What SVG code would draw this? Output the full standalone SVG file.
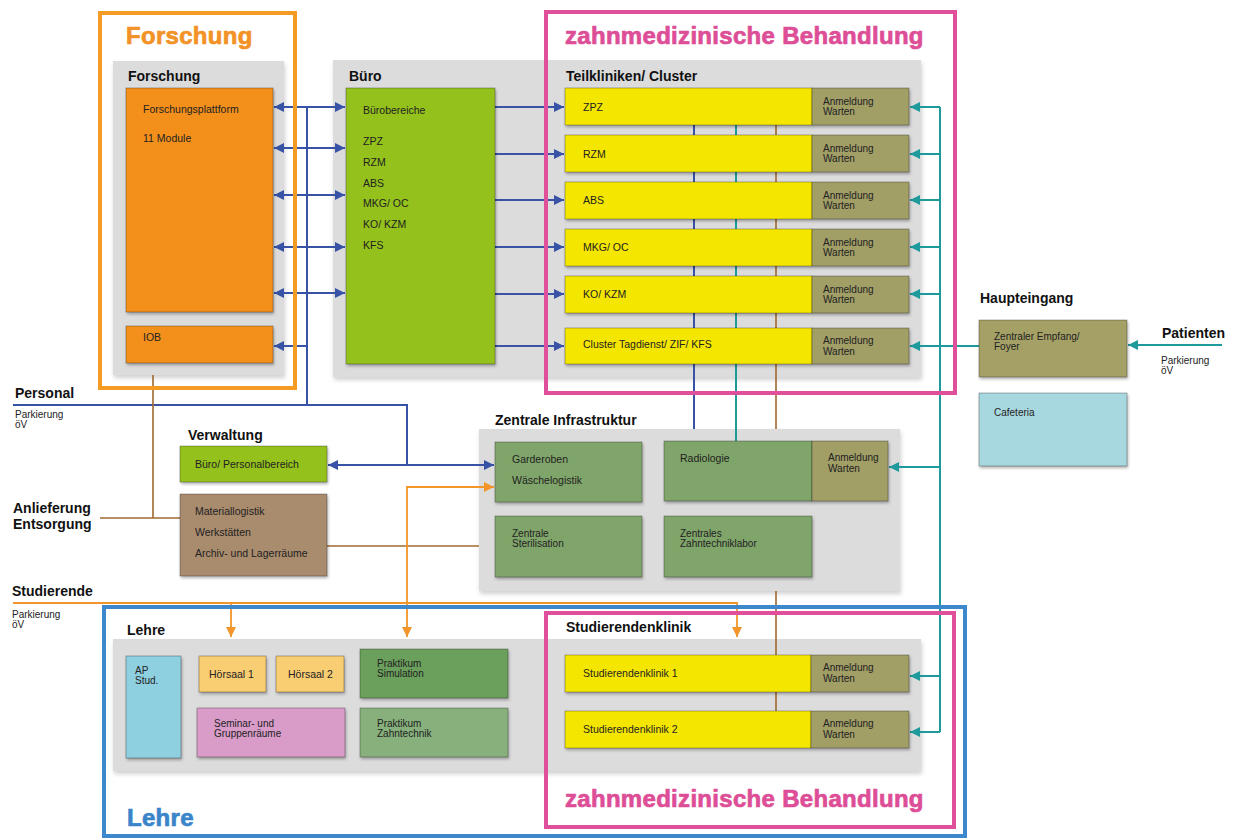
<svg xmlns="http://www.w3.org/2000/svg" width="1235" height="839" viewBox="0 0 1235 839">
<defs>
<filter id="sh" x="-10%" y="-10%" width="130%" height="130%">
<feDropShadow dx="1" dy="2" stdDeviation="1.5" flood-color="#000" flood-opacity="0.3"/>
</filter>
<filter id="shp" x="-5%" y="-5%" width="110%" height="115%">
<feDropShadow dx="1" dy="3" stdDeviation="2" flood-color="#000" flood-opacity="0.18"/>
</filter>
<marker id="ab" viewBox="0 0 10 10" refX="10" refY="5" markerWidth="11" markerHeight="10" markerUnits="userSpaceOnUse" orient="auto-start-reverse"><path d="M0,0 L10,5 L0,10 z" fill="#3853a6"/></marker>
<marker id="at" viewBox="0 0 10 10" refX="10" refY="5" markerWidth="11" markerHeight="10" markerUnits="userSpaceOnUse" orient="auto-start-reverse"><path d="M0,0 L10,5 L0,10 z" fill="#1f9a9c"/></marker>
<marker id="ao" viewBox="0 0 10 10" refX="10" refY="5" markerWidth="11" markerHeight="10" markerUnits="userSpaceOnUse" orient="auto-start-reverse"><path d="M0,0 L10,5 L0,10 z" fill="#f2952b"/></marker>
</defs>
<style>
text{font-family:"Liberation Sans",Arial,sans-serif;fill:#222}
.t{font-size:10.5px}
.s{font-size:10px}
.lab{font-size:14px;font-weight:bold;fill:#111}
.big{font-size:24px;font-weight:bold;letter-spacing:0.3px;stroke-width:0.7px}
.panel{fill:#dcdcdc;filter:url(#shp)}
.box{stroke:#000;stroke-opacity:0.35;stroke-width:0.8;filter:url(#sh)}
.or{fill:#f3901a}
.gr{fill:#94c11f}
.ye{fill:#f5e600}
.ol{fill:#a19e66}
.zg{fill:#80a56b}
.frame{fill:none;stroke-width:4}
.cb{fill:none;stroke:#3853a6;stroke-width:2}
.ct{fill:none;stroke:#1f9a9c;stroke-width:2}
.cr{fill:none;stroke:#a0682f;stroke-width:1.6}
.co{fill:none;stroke:#f2952b;stroke-width:1.8}
</style>
<rect width="1235" height="839" fill="#fff"/>

<g id="panels">
<rect class="panel" x="113" y="61" width="171" height="314"/>
<rect class="panel" x="333" y="60" width="588" height="317"/>
<rect class="panel" x="479" y="429" width="421" height="162"/>
<rect class="panel" x="113" y="639" width="808" height="132"/>
</g>

<g id="connectors">
<!-- blue -->
<path class="cb" d="M274 107H345" marker-start="url(#ab)" marker-end="url(#ab)"/>
<path class="cb" d="M274 148H345" marker-start="url(#ab)" marker-end="url(#ab)"/>
<path class="cb" d="M274 195H345" marker-start="url(#ab)" marker-end="url(#ab)"/>
<path class="cb" d="M274 247H345" marker-start="url(#ab)" marker-end="url(#ab)"/>
<path class="cb" d="M274 293H345" marker-start="url(#ab)" marker-end="url(#ab)"/>
<path class="cb" d="M307 346H274" marker-end="url(#ab)"/>
<path class="cb" d="M307 107V405"/>
<path class="cb" d="M13 405H407V465"/>
<path class="cb" d="M328 465H494" marker-start="url(#ab)" marker-end="url(#ab)"/>
<path class="cb" d="M495 107H564" marker-end="url(#ab)"/>
<path class="cb" d="M495 154H564" marker-end="url(#ab)"/>
<path class="cb" d="M495 200H564" marker-end="url(#ab)"/>
<path class="cb" d="M495 247H564" marker-end="url(#ab)"/>
<path class="cb" d="M495 294H564" marker-end="url(#ab)"/>
<path class="cb" d="M495 346H564" marker-end="url(#ab)"/>
<path class="cb" d="M694 125V429"/>
<!-- teal -->
<path class="ct" d="M1222 345H1128" marker-end="url(#at)"/>
<path class="ct" d="M979 346H910" marker-end="url(#at)"/>
<path class="ct" d="M940 107V732"/>
<path class="ct" d="M940 107H910" marker-end="url(#at)"/>
<path class="ct" d="M940 154H910" marker-end="url(#at)"/>
<path class="ct" d="M940 200H910" marker-end="url(#at)"/>
<path class="ct" d="M940 247H910" marker-end="url(#at)"/>
<path class="ct" d="M940 294H910" marker-end="url(#at)"/>
<path class="ct" d="M940 467H889" marker-end="url(#at)"/>
<path class="ct" d="M940 676H910" marker-end="url(#at)"/>
<path class="ct" d="M940 732H910" marker-end="url(#at)"/>
<path class="ct" d="M736 125V441"/>
<!-- brown -->
<path class="cr" d="M776 125V429"/>
<path class="cr" d="M776 591V711"/>
<path class="cr" d="M153 375V518"/>
<path class="cr" d="M100 518H180"/>
<path class="cr" d="M327 546H479"/>
<!-- orange -->
<path class="co" d="M13 603H737V637" marker-end="url(#ao)"/>
<path class="co" d="M231 603V637" marker-end="url(#ao)"/>
<path class="co" d="M407 637V487H494" marker-start="url(#ao)" marker-end="url(#ao)"/>
</g>

<g id="forschungsplattform"><rect class="box or" x="126" y="88" width="147" height="224"/><text class="t" x="143" y="113">Forschungsplattform</text><text class="t" x="143" y="142">11 Module</text></g>
<g id="iob"><rect class="box or" x="126" y="326" width="147" height="37"/><text class="t" x="143" y="341">IOB</text></g>

<g id="buerobereiche"><rect class="box gr" x="346" y="88" width="149" height="276"/>
<text class="t" x="363" y="114">Bürobereiche</text>
<text class="t" x="363" y="145">ZPZ</text><text class="t" x="363" y="166">RZM</text><text class="t" x="363" y="187">ABS</text>
<text class="t" x="363" y="207">MKG/ OC</text><text class="t" x="363" y="228">KO/ KZM</text><text class="t" x="363" y="249">KFS</text></g>

<g id="zpz"><rect class="box ye" x="565" y="88" width="247" height="37"/><rect class="box ol" x="812" y="88" width="97" height="37"/><text class="t" x="583" y="111">ZPZ</text><text class="s" x="823" y="105">Anmeldung</text><text class="s" x="823" y="115">Warten</text></g>
<g id="rzm"><rect class="box ye" x="565" y="135" width="247" height="37"/><rect class="box ol" x="812" y="135" width="97" height="37"/><text class="t" x="583" y="158">RZM</text><text class="s" x="823" y="152">Anmeldung</text><text class="s" x="823" y="162">Warten</text></g>
<g id="abs"><rect class="box ye" x="565" y="182" width="247" height="37"/><rect class="box ol" x="812" y="182" width="97" height="37"/><text class="t" x="583" y="204">ABS</text><text class="s" x="823" y="199">Anmeldung</text><text class="s" x="823" y="209">Warten</text></g>
<g id="mkg"><rect class="box ye" x="565" y="229" width="247" height="37"/><rect class="box ol" x="812" y="229" width="97" height="37"/><text class="t" x="583" y="251">MKG/ OC</text><text class="s" x="823" y="246">Anmeldung</text><text class="s" x="823" y="256">Warten</text></g>
<g id="ko"><rect class="box ye" x="565" y="276" width="247" height="37"/><rect class="box ol" x="812" y="276" width="97" height="37"/><text class="t" x="583" y="298">KO/ KZM</text><text class="s" x="823" y="293">Anmeldung</text><text class="s" x="823" y="303">Warten</text></g>
<g id="tagdienst"><rect class="box ye" x="565" y="328" width="247" height="36"/><rect class="box ol" x="812" y="328" width="97" height="36"/><text class="t" x="583" y="348">Cluster Tagdienst/ ZIF/ KFS</text><text class="s" x="823" y="344">Anmeldung</text><text class="s" x="823" y="355">Warten</text></g>

<g id="verwaltung"><rect class="box gr" x="180" y="446" width="147" height="36"/><text class="t" x="195" y="468">Büro/ Personalbereich</text></g>
<g id="materiallogistik"><rect class="box" fill="#a98b6d" x="180" y="494" width="147" height="82"/><text class="t" x="195" y="515">Materiallogistik</text><text class="t" x="195" y="536">Werkstätten</text><text class="t" x="195" y="557">Archiv- und Lagerräume</text></g>

<g id="garderoben"><rect class="box zg" x="495" y="442" width="147" height="60"/><text class="t" x="512" y="463">Garderoben</text><text class="t" x="512" y="484">Wäschelogistik</text></g>
<g id="radiologie"><rect class="box zg" x="664" y="441" width="148" height="60"/><rect class="box ol" x="812" y="441" width="76" height="60"/><text class="t" x="680" y="462">Radiologie</text><text class="s" x="828" y="461">Anmeldung</text><text class="s" x="828" y="472">Warten</text></g>
<g id="sterilisation"><rect class="box zg" x="495" y="516" width="147" height="61"/><text class="s" x="512" y="537">Zentrale</text><text class="s" x="512" y="547">Sterilisation</text></g>
<g id="zahntechniklabor"><rect class="box zg" x="664" y="516" width="148" height="61"/><text class="s" x="680" y="537">Zentrales</text><text class="s" x="680" y="547">Zahntechniklabor</text></g>

<g id="empfang"><rect class="box" fill="#a5a166" x="979" y="320" width="148" height="57"/><text class="s" x="994" y="340">Zentraler Empfang/</text><text class="s" x="994" y="350">Foyer</text></g>
<g id="cafeteria"><rect class="box" fill="#a8d8df" x="979" y="393" width="148" height="73"/><text class="s" x="994" y="416">Cafeteria</text></g>

<g id="apstud"><rect class="box" fill="#8ecfe0" x="126" y="656" width="55" height="102"/><text class="s" x="135" y="674">AP</text><text class="s" x="135" y="684">Stud.</text></g>
<g id="hoersaal1"><rect class="box" fill="#f9cd72" x="199" y="656" width="67" height="36"/><text class="t" x="209" y="678">Hörsaal 1</text></g>
<g id="hoersaal2"><rect class="box" fill="#f9cd72" x="276" y="656" width="68" height="36"/><text class="t" x="288" y="678">Hörsaal 2</text></g>
<g id="seminar"><rect class="box" fill="#d99cc8" x="197" y="708" width="148" height="49"/><text class="s" x="214" y="727">Seminar- und</text><text class="s" x="214" y="737">Gruppenräume</text></g>
<g id="simulation"><rect class="box" fill="#6a9f5b" x="360" y="649" width="148" height="49"/><text class="s" x="377" y="667">Praktikum</text><text class="s" x="377" y="677">Simulation</text></g>
<g id="zahntechnik"><rect class="box" fill="#87b07b" x="360" y="708" width="148" height="49"/><text class="s" x="377" y="727">Praktikum</text><text class="s" x="377" y="737">Zahntechnik</text></g>
<g id="stklinik1"><rect class="box ye" x="565" y="655" width="246" height="37"/><rect class="box ol" x="811" y="655" width="98" height="37"/><text class="t" x="583" y="677">Studierendenklinik 1</text><text class="s" x="823" y="671">Anmeldung</text><text class="s" x="823" y="682">Warten</text></g>
<g id="stklinik2"><rect class="box ye" x="565" y="711" width="246" height="37"/><rect class="box ol" x="811" y="711" width="98" height="37"/><text class="t" x="583" y="733">Studierendenklinik 2</text><text class="s" x="823" y="727">Anmeldung</text><text class="s" x="823" y="738">Warten</text></g>

<g id="frames">
<rect class="frame" stroke="#f39b22" x="100" y="13" width="195" height="375"/>
<rect class="frame" stroke="#e0509a" x="546" y="12" width="409" height="381"/>
<rect class="frame" stroke="#3d87cd" x="104" y="607" width="861" height="229"/>
<rect class="frame" stroke="#e0509a" x="546" y="613" width="408" height="214"/>
</g>

<g id="labels">
<text class="big" x="126" y="44" style="fill:#f29227;stroke:#f29227">Forschung</text>
<text class="big" x="565" y="44" style="fill:#dd4e97;stroke:#dd4e97">zahnmedizinische Behandlung</text>
<text class="big" x="565" y="807" style="fill:#dd4e97;stroke:#dd4e97">zahnmedizinische Behandlung</text>
<text class="big" x="127" y="826" style="fill:#3a85ca;stroke:#3a85ca">Lehre</text>
<text class="lab" x="128" y="81">Forschung</text>
<text class="lab" x="349" y="81">Büro</text>
<text class="lab" x="566" y="81">Teilkliniken/ Cluster</text>
<text class="lab" x="495" y="425">Zentrale Infrastruktur</text>
<text class="lab" x="188" y="440">Verwaltung</text>
<text class="lab" x="980" y="303">Haupteingang</text>
<text class="lab" x="1162" y="338">Patienten</text>
<text class="s" x="1161" y="364">Parkierung</text>
<text class="s" x="1161" y="374">öV</text>
<text class="lab" x="15" y="398">Personal</text>
<text class="s" x="15" y="418">Parkierung</text>
<text class="s" x="15" y="428">öV</text>
<text class="lab" x="13" y="513">Anlieferung</text>
<text class="lab" x="13" y="529">Entsorgung</text>
<text class="lab" x="12" y="596">Studierende</text>
<text class="s" x="12" y="618">Parkierung</text>
<text class="s" x="12" y="628">öV</text>
<text class="lab" x="127" y="635">Lehre</text>
<text class="lab" x="566" y="632">Studierendenklinik</text>
</g>
</svg>
